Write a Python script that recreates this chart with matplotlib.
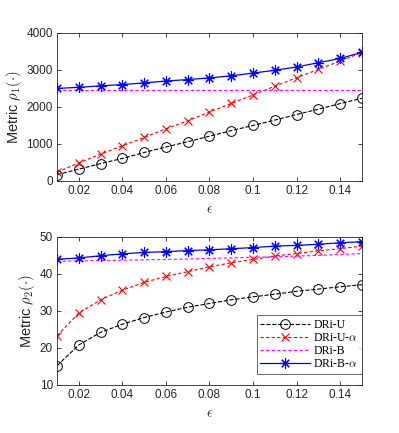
import matplotlib
matplotlib.use("Agg")
import matplotlib.pyplot as plt
import numpy as np

eps = [0.01, 0.02, 0.03, 0.04, 0.05, 0.06, 0.07, 0.08, 0.09, 0.10, 0.11, 0.12, 0.13, 0.14, 0.15]

rho1_dri_u = [170, 320, 470, 610, 770, 920, 1060, 1210, 1360, 1500, 1645, 1795, 1940, 2090, 2235]
rho1_dri_u_a = [240, 490, 725, 950, 1175, 1410, 1625, 1860, 2095, 2325, 2560, 2790, 3015, 3240, 3470]
rho1_dri_b = [2460] * 15
rho1_dri_b_a = [2500, 2530, 2570, 2605, 2650, 2700, 2740, 2785, 2840, 2915, 2990, 3080, 3195, 3310, 3475]

rho2_dri_u = [15.2, 20.8, 24.2, 26.4, 28.2, 29.7, 31.0, 32.0, 33.0, 33.8, 34.5, 35.3, 35.9, 36.5, 37.1]
rho2_dri_u_a = [23.3, 29.4, 33.0, 35.6, 37.7, 39.3, 40.6, 41.9, 43.0, 43.9, 44.8, 45.5, 46.2, 46.8, 47.5]
rho2_dri_b = [43.4, 43.5, 43.6, 43.7, 43.8, 43.9, 44.0, 44.2, 44.3, 44.5, 44.6, 44.8, 45.0, 45.2, 45.5]
rho2_dri_b_a = [43.95, 44.3, 44.9, 45.4, 45.8, 46.0, 46.3, 46.5, 46.8, 47.1, 47.5, 47.7, 48.0, 48.4, 48.7]

labels = ["DRi-U", r"DRi-U-$\alpha$", "DRi-B", r"DRi-B-$\alpha$"]
xticks = [0.02, 0.04, 0.06, 0.08, 0.1, 0.12, 0.14]
xticklabels = ["0.02", "0.04", "0.06", "0.08", "0.1", "0.12", "0.14"]

plt.rcParams['font.family'] = ['Liberation Sans', 'DejaVu Sans']
plt.rcParams['mathtext.fontset'] = 'cm'

fig = plt.figure(figsize=(3.99, 4.33), dpi=100)
ax1 = fig.add_axes([0.143, 0.582, 0.764, 0.342])
ax2 = fig.add_axes([0.143, 0.111, 0.764, 0.342])

axcol = (0.15, 0.15, 0.15)

def style(ax, ylim, yticks):
    ax.set_xlim(0.01, 0.15)
    ax.set_ylim(*ylim)
    ax.set_xticks(xticks)
    ax.set_xticklabels(xticklabels)
    ax.set_yticks(yticks)
    ax.tick_params(direction='in', top=True, right=True, labelsize=8.5, colors=axcol,
                   length=3, width=0.6, pad=3)
    for s in ax.spines.values():
        s.set_color(axcol)
        s.set_linewidth(0.6)
    ax.set_xlabel(r'$\epsilon$', fontsize=10, color=axcol)

def draw(ax, u, ua, b, ba):
    ax.plot(eps, u, color='black', linestyle='--', linewidth=0.8, marker='o',
            markersize=7, markerfacecolor='none', markeredgewidth=0.7, label=labels[0])
    ax.plot(eps, ua, color='red', linestyle='--', linewidth=0.8, marker='x',
            markersize=6, markeredgewidth=0.8, label=labels[1], dashes=(3, 2))
    ax.plot(eps, b, color='magenta', linestyle='--', linewidth=0.8, label=labels[2], dashes=(3, 2))
    ax.plot(eps, ba, color='blue', linestyle='-', linewidth=0.9, marker=(8, 2, 0),
            markersize=7.5, markeredgewidth=0.8, label=labels[3])

draw(ax1, rho1_dri_u, rho1_dri_u_a, rho1_dri_b, rho1_dri_b_a)
style(ax1, (0, 4000), [0, 1000, 2000, 3000, 4000])
ax1.set_ylabel(r'Metric $\rho_1(\cdot)$', fontsize=10.5, color=axcol, labelpad=2)

draw(ax2, rho2_dri_u, rho2_dri_u_a, rho2_dri_b, rho2_dri_b_a)
style(ax2, (10, 50), [10, 20, 30, 40, 50])
ax2.set_ylabel(r'Metric $\rho_2(\cdot)$', fontsize=10.5, color=axcol, labelpad=2)

leg = ax2.legend(loc='lower right', bbox_to_anchor=(1.0, 0.075),
                 prop={'family': 'Liberation Serif', 'size': 8.5}, frameon=True,
                 fancybox=False, edgecolor=axcol, borderpad=0.3, labelspacing=0.1,
                 handlelength=4.2, handletextpad=0.3, borderaxespad=0.0)
leg.get_frame().set_linewidth(0.6)

fig.savefig('out.png', dpi=100)
